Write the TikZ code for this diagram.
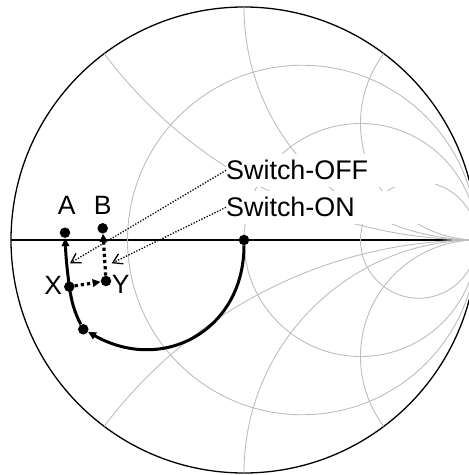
\documentclass[tikz,border=0pt]{standalone}
\usepackage{fontspec}
\setmainfont{Liberation Sans}
\usetikzlibrary{arrows.meta}
\begin{document}
\begin{tikzpicture}[x=1pt,y=1pt,
  gridline/.style={draw=black!26, line width=0.9pt},
  frame/.style={draw=black, line width=1.3pt},
  dot/.style={circle, fill=black, inner sep=0pt, minimum size=10.5pt},
  lbl/.style={font=\fontsize{26.5}{30}\selectfont, inner sep=0pt},
  swlbl/.style={font=\fontsize{26.9}{30}\selectfont, fill=white, inner sep=0pt,
    anchor=south west, text width=209pt, align=left, minimum height=33pt},
  solidpath/.style={line width=3pt, -{Triangle[length=8pt,width=7.5pt]}},
  dotpath/.style={line width=3.2pt, dash pattern=on 3.2pt off 3pt, -{Triangle[length=8pt,width=7.5pt]}},
  pointer/.style={line width=1.3pt, dash pattern=on 1.3pt off 1.6pt, -{Straight Barb[length=9pt,width=11pt]}}
]
\useasboundingbox (0,0) rectangle (469,475);
\def\R{233}
\coordinate (O) at (244,235);
\coordinate (west) at (11,235);
\coordinate (east) at (477,235);
% outer circle and real axis
\draw[frame] (O) circle (\R);
\draw[frame] (west) -- (east);
% grid
\begin{scope}
  \clip (O) circle (\R);
  \foreach \rr in {0.3333333,1,3} {
    \draw[gridline] ({244+\R*\rr/(\rr+1)},235) circle ({\R/(\rr+1)});
  }
  \foreach \xx in {0.5,1,2,-0.5,-1,-2} {
    \draw[gridline] (477,{235+\R/\xx}) circle ({\R/abs(\xx)});
  }
\end{scope}
% switch labels
\node[swlbl] (off) at (226,288) {Switch-OFF};
\node[swlbl] (on) at (226,251) {Switch-ON};
% points
\node[dot] (ctr) at (O) {};
\node[dot] (L) at (83.3,145.7) {};
\node[dot] (X) at (69.3,188.3) {};
\node[dot] (Y) at (106,194) {};
\node[dot] (A) at (65,242.3) {};
\node[dot] (B) at (102.7,246.7) {};
% letters
\node[lbl] (Alab) at (66.7,270) {A};
\node[lbl] (Blab) at (102.7,270) {B};
\node[lbl] (Xlab) at (53.3,190) {X};
\node[lbl] (Ylab) at (120.7,190.5) {Y};
% trajectories
\draw[solidpath] (ctr) .. controls +(0,-90) and +(80,-45) .. (L);
\draw[solidpath] (L) to[out=117,in=-81] (X.center) to[out=97,in=-88] (A);
\draw[dotpath] (X) -- (Y);
\draw[dotpath] (Y) -- (B);
% pointers
\coordinate (offtip) at (70,211.7);
\coordinate (ontip) at (111.7,211.7);
\draw[pointer] (off.west) -- (offtip);
\draw[pointer] (on.west) -- (ontip);
\end{tikzpicture}
\end{document}
